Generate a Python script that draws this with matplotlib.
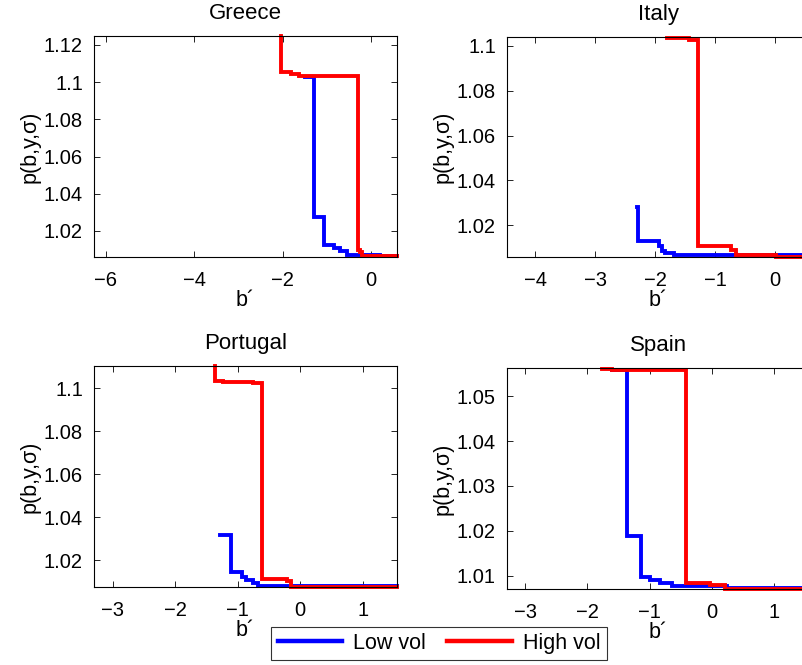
import matplotlib
matplotlib.use("Agg")
import matplotlib.pyplot as plt

plt.rcParams['font.family'] = ['Liberation Sans', 'DejaVu Sans']

countries = ["Greece", "Italy", "Portugal", "Spain"]

# Greece
greece_low_x = [-1.5, -1.30, -1.07, -0.84, -0.69, -0.54, 0.21, 0.59]
greece_low_y = [1.1030, 1.0275, 1.0127, 1.0108, 1.0092, 1.0073, 1.0063, 1.0063]
greece_high_x = [-2.04, -2.04, -1.80, -1.63, -0.30, -0.25, -0.20, 0.59]
greece_high_y = [1.1248, 1.1056, 1.1044, 1.1033, 1.0096, 1.0088, 1.0063, 1.0063]

# Italy
italy_low_x = [-2.31, -2.28, -1.94, -1.89, -1.84, -1.68, 0.58]
italy_low_y = [1.0283, 1.0130, 1.0105, 1.0085, 1.0075, 1.0068, 1.0068]
italy_high_x = [-1.81, -1.43, -1.29, -0.74, -0.66, 0.01, 0.58]
italy_high_y = [1.1036, 1.1028, 1.0105, 1.0088, 1.0069, 1.0060, 1.0060]

# Portugal
portugal_low_x = [-1.28, -1.107, -0.93, -0.87, -0.75, -0.67, 1.55]
portugal_low_y = [1.0316, 1.0146, 1.0123, 1.0110, 1.0095, 1.0079, 1.0079]
portugal_high_x = [-1.37, -1.37, -1.23, -0.75, -0.606, -0.21, -0.14, 1.55]
portugal_high_y = [1.1104, 1.1035, 1.1029, 1.1025, 1.0115, 1.0105, 1.0078, 1.0078]

# Spain
spain_low_x = [-1.6, -1.37, -1.14, -0.99, -0.83, -0.645, 0.24, 1.57]
spain_low_y = [1.0558, 1.0189, 1.0097, 1.0089, 1.0084, 1.0076, 1.0072, 1.0072]
spain_high_x = [-1.77, -1.6, -0.416, -0.03, 0.21, 1.57]
spain_high_y = [1.0561, 1.0558, 1.0084, 1.0079, 1.0071, 1.0071]

xlims = [(-6.27, 0.59), (-4.47, 0.58), (-3.30, 1.55), (-3.29, 1.57)]
ylims = [(1.0060, 1.1248), (1.0058, 1.1040), (1.0076, 1.1104), (1.0070, 1.0563)]
xticks = [[-6, -4, -2, 0], [-4, -3, -2, -1, 0], [-3, -2, -1, 0, 1], [-3, -2, -1, 0, 1]]
yticks = [[1.02, 1.04, 1.06, 1.08, 1.1, 1.12],
          [1.02, 1.04, 1.06, 1.08, 1.1],
          [1.02, 1.04, 1.06, 1.08, 1.1],
          [1.01, 1.02, 1.03, 1.04, 1.05]]
ytick_labels = [["1.02", "1.04", "1.06", "1.08", "1.1", "1.12"],
                ["1.02", "1.04", "1.06", "1.08", "1.1"],
                ["1.02", "1.04", "1.06", "1.08", "1.1"],
                ["1.01", "1.02", "1.03", "1.04", "1.05"]]

low = [(greece_low_x, greece_low_y), (italy_low_x, italy_low_y),
       (portugal_low_x, portugal_low_y), (spain_low_x, spain_low_y)]
high = [(greece_high_x, greece_high_y), (italy_high_x, italy_high_y),
        (portugal_high_x, portugal_high_y), (spain_high_x, spain_high_y)]

W, H = 803, 665
fig = plt.figure(figsize=(W / 100, H / 100), dpi=100)

# axes boxes in pixels: left, top, width, height
boxes = [(94, 36, 303, 221), (507, 37, 303, 220), (94, 366, 303, 221), (507, 368, 303, 221)]

lw = 2.8
handles = None
for i, c in enumerate(countries):
    l, t, w, h = boxes[i]
    ax = fig.add_axes([l / W, 1 - (t + h) / H, w / W, h / H])
    hl, = ax.plot(low[i][0], low[i][1], drawstyle='steps-post', color='#0000ff', lw=lw,
                  solid_joinstyle='miter', clip_on=False, label='Low vol')
    hh, = ax.plot(high[i][0], high[i][1], drawstyle='steps-post', color='#ff0000', lw=lw,
                  solid_joinstyle='miter', clip_on=False, label='High vol')
    handles = [hl, hh]
    ax.set_xlim(*xlims[i])
    ax.set_ylim(*ylims[i])
    ax.set_xticks(xticks[i])
    ax.set_yticks(yticks[i])
    ax.set_yticklabels(ytick_labels[i])
    ax.tick_params(direction='in', top=True, right=True, length=4, width=0.6,
                   labelsize=14.5)
    ax.tick_params(axis='y', pad=8)
    ax.tick_params(axis='x', pad=10)
    for s in ax.spines.values():
        s.set_linewidth(0.8)
    ax.set_title(c, fontsize=16, pad=12)
    ax.set_ylabel('p(b,y,σ)', fontsize=15.5, labelpad=2)
    ax.set_xlabel('b´', fontsize=15.5, labelpad=0)

leg = fig.legend(handles, ['Low vol', 'High vol'], loc='center',
                 bbox_to_anchor=(439 / W, 1 - 643.5 / H), ncol=2, fontsize=15.5,
                 frameon=True, fancybox=False, edgecolor='black', handlelength=3.0,
                 columnspacing=1.0, handletextpad=0.5, borderpad=0.3)
leg.get_frame().set_linewidth(0.8)
for lh in leg.get_lines():
    lh.set_linewidth(3.2)

fig.savefig('out.png', dpi=100)
